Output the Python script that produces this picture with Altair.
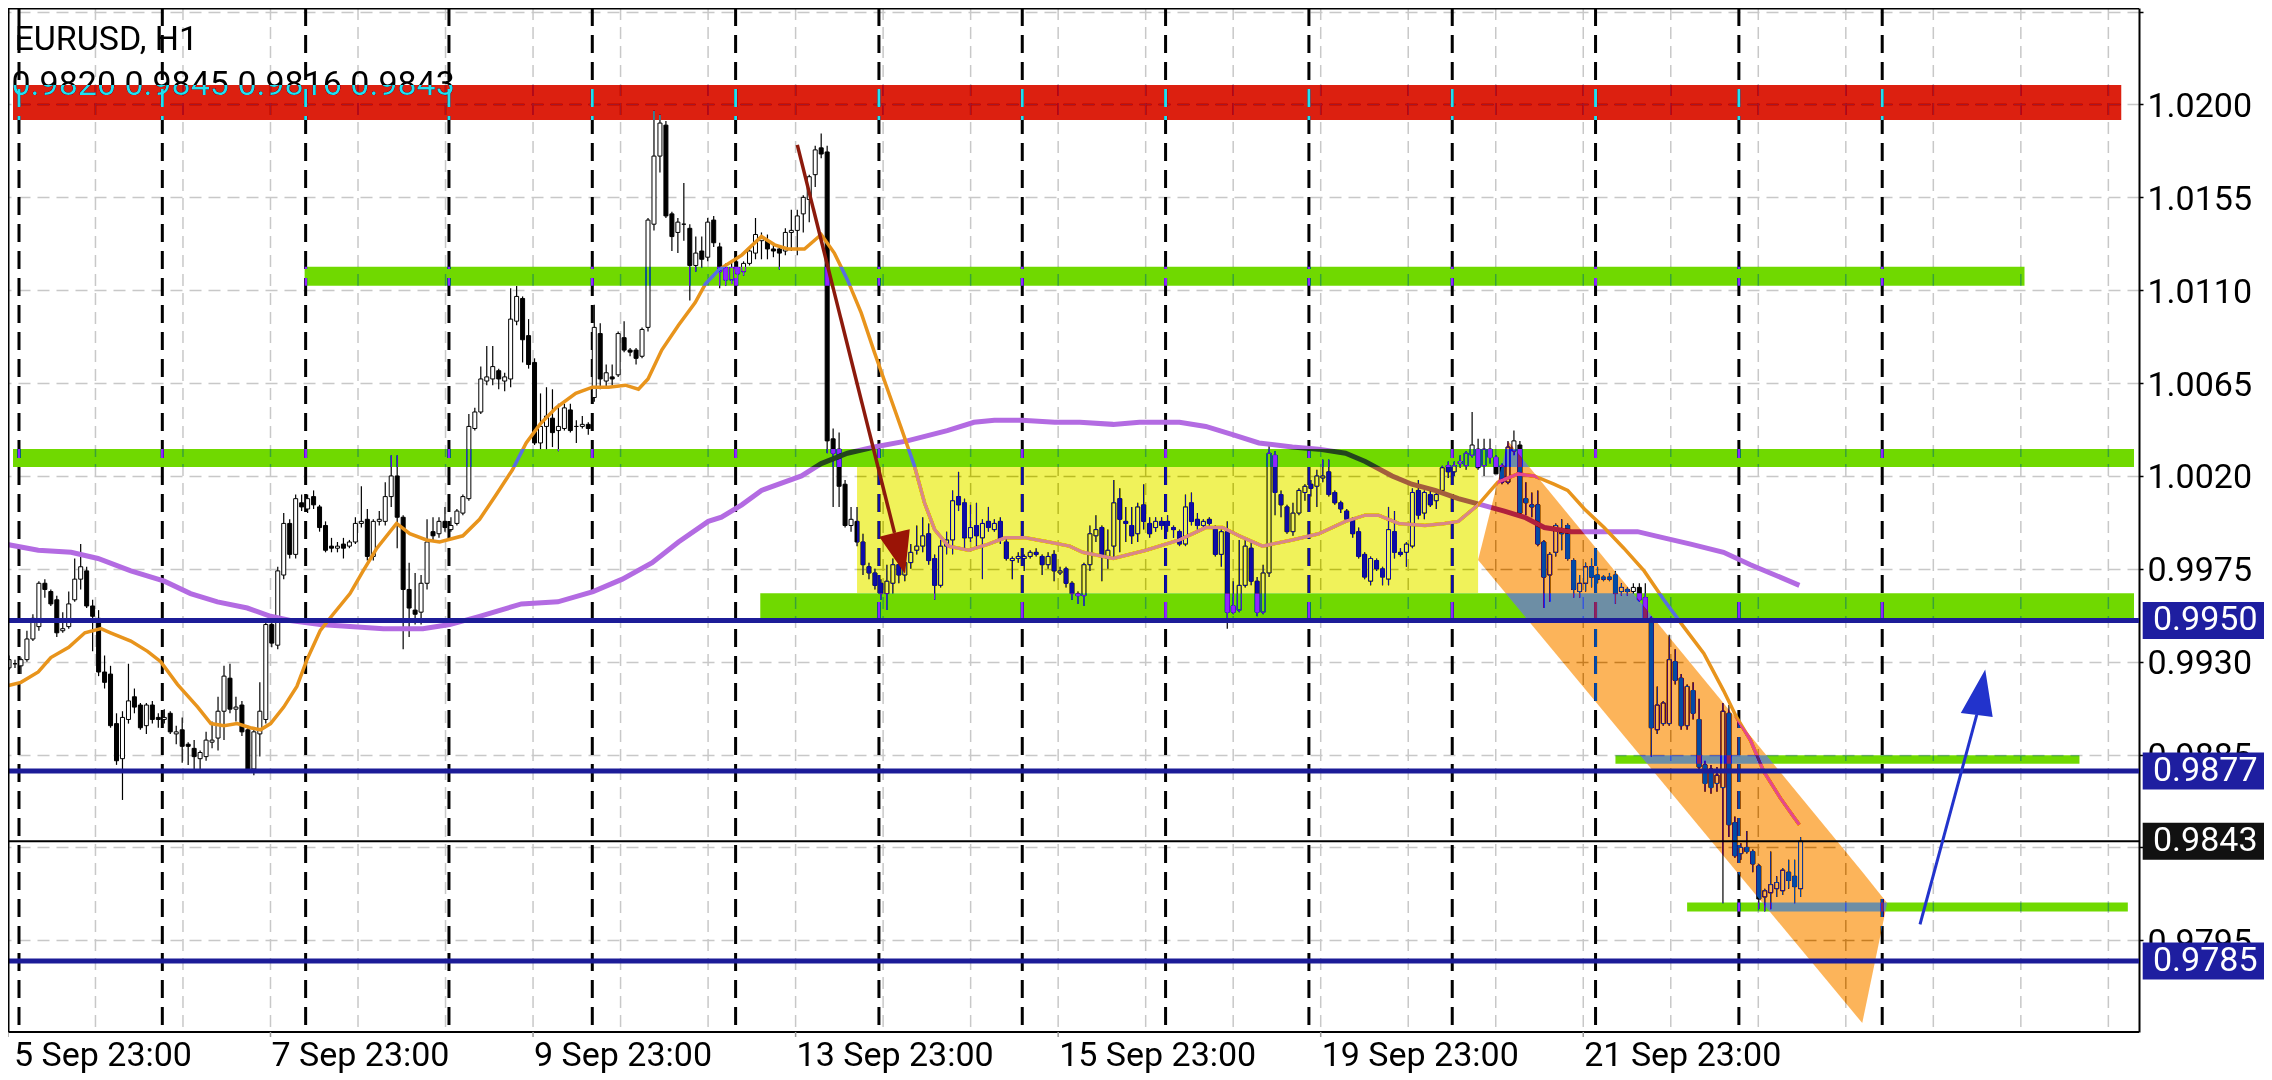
import altair as alt
import pandas as pd

# ---------------- data ----------------
SYMBOL = "EURUSD, H1"
# bar index 0 = 6 Sep 00:00 (server time); one bar per hour; each day row starts at DAY_START
DAY_START = [-2, 0, 24, 48, 72, 96, 120, 144, 168, 192, 216, 240, 264, 288]

OPEN = [
 [0.9927, 0.9929],
 [0.9928, 0.9931, 0.9941, 0.9947, 0.9968, 0.9964, 0.9960, 0.9945, 0.9947, 0.9960, 0.9970, 0.9974, 0.9957, 0.9951, 0.9925, 0.9924, 0.9900, 0.9883, 0.9902, 0.9913, 0.9909, 0.9899, 0.9909, 0.9903],
 [0.9902, 0.9905, 0.9895, 0.9897, 0.9890, 0.9888, 0.9883, 0.9884, 0.9891, 0.9893, 0.9906, 0.9922, 0.9907, 0.9909, 0.9897, 0.9878, 0.9895, 0.9902, 0.9948, 0.9938, 0.9972, 0.9997, 0.9982, 1.0007],
 [1.0004, 1.0010, 1.0005, 0.9996, 0.9986, 0.9985, 0.9987, 0.9986, 0.9988, 0.9997, 0.9999, 0.9981, 0.9998, 0.9998, 1.0010, 1.0020, 1.0000, 0.9965, 0.9955, 0.9954, 0.9968, 0.9993, 0.9992, 0.9998],
 [0.9994, 0.9997, 1.0002, 1.0009, 1.0043, 1.0051, 1.0066, 1.0067, 1.0071, 1.0066, 1.0067, 1.0095, 1.0106, 1.0088, 1.0075, 1.0036, 1.0044, 1.0048, 1.0042, 1.0043, 1.0052, 1.0044, 1.0044, 1.0045],
 [1.0058, 1.0089, 1.0066, 1.0068, 1.0069, 1.0087, 1.0081, 1.0081, 1.0078, 1.0092, 1.0142, 1.0175, 1.0190, 1.0147, 1.0138, 1.0142, 1.0140, 1.0122, 1.0129, 1.0126, 1.0144, 1.0131, 1.0121, 1.0115],
 [1.0121, 1.0119, 1.0123, 1.0128, 1.0134, 1.0134, 1.0130, 1.0130, 1.0129, 1.0138, 1.0139, 1.0147, 1.0154, 1.0166, 1.0179, 1.0177, 1.0038, 1.0033, 1.0016, 0.9996, 0.9998, 0.9988, 0.9976, 0.9973],
 [0.9968, 0.9963, 0.9968, 0.9977, 0.9972, 0.9978, 0.9984, 0.9986, 0.9992, 0.9980, 0.9967, 0.9986, 0.9989, 1.0010, 1.0007, 0.9990, 0.9996, 0.9990, 0.9998, 0.9994, 0.9998, 0.9988, 0.9979, 0.9980],
 [0.9980, 0.9981, 0.9983, 0.9981, 0.9977, 0.9982, 0.9973, 0.9975, 0.9968, 0.9963, 0.9962, 0.9977, 0.9991, 0.9995, 0.9980, 0.9986, 1.0009, 0.9998, 0.9996, 0.9992, 1.0006, 0.9997, 0.9995, 0.9998],
 [0.9998, 0.9995, 0.9993, 0.9987, 1.0007, 0.9999, 0.9996, 0.9999, 0.9995, 0.9982, 0.9993, 0.9957, 0.9955, 0.9967, 0.9985, 0.9969, 0.9954, 0.9973, 1.0030, 1.0011, 1.0005, 0.9993, 1.0002, 1.0012],
 [1.0016, 1.0015, 1.0019, 1.0022, 1.0012, 1.0007, 1.0003, 0.9999, 0.9993, 0.9982, 0.9969, 0.9979, 0.9975, 0.9970, 0.9993, 0.9983, 0.9983, 0.9986, 1.0013, 1.0002, 1.0011, 1.0008, 1.0013, 1.0025],
 [1.0022, 1.0026, 1.0025, 1.0030, 1.0033, 1.0025, 1.0033, 1.0029, 1.0025, 1.0017, 1.0032, 1.0035, 1.0009, 1.0006, 1.0006, 0.9988, 0.9972, 0.9983, 0.9994, 0.9996, 0.9979, 0.9964, 0.9968, 0.9976],
 [0.9972, 0.9971, 0.9971, 0.9972, 0.9964, 0.9965, 0.9964, 0.9966, 0.9961, 0.9951, 0.9897, 0.9900, 0.9900, 0.9930, 0.9922, 0.9899, 0.9916, 0.9902, 0.9880, 0.9878, 0.9871, 0.9869, 0.9905, 0.9852],
 [0.9837, 0.9840, 0.9838, 0.9831, 0.9816, 0.9818, 0.9820, 0.9819, 0.9828, 0.9826, 0.9820],
]
HIGH = [
 [0.9933, 0.9931],
 [0.9932, 0.9945, 0.9953, 0.9969, 0.9970, 0.9965, 0.9962, 0.9954, 0.9964, 0.9980, 0.9987, 0.9976, 0.9960, 0.9955, 0.9933, 0.9928, 0.9905, 0.9906, 0.9929, 0.9917, 0.9910, 0.9910, 0.9911, 0.9905],
 [0.9907, 0.9906, 0.9899, 0.9903, 0.9891, 0.9892, 0.9887, 0.9896, 0.9901, 0.9913, 0.9928, 0.9929, 0.9913, 0.9911, 0.9899, 0.9897, 0.9920, 0.9951, 0.9951, 0.9976, 1.0002, 0.9999, 1.0011, 1.0011],
 [1.0011, 1.0013, 1.0006, 0.9998, 0.9990, 0.9988, 0.9990, 0.9989, 1.0000, 1.0015, 1.0004, 0.9999, 1.0003, 1.0017, 1.0030, 1.0030, 1.0001, 0.9978, 0.9973, 0.9972, 0.9999, 1.0000, 1.0000, 1.0005],
 [1.0000, 1.0004, 1.0011, 1.0050, 1.0053, 1.0073, 1.0083, 1.0083, 1.0072, 1.0070, 1.0111, 1.0112, 1.0107, 1.0096, 1.0077, 1.0060, 1.0063, 1.0062, 1.0055, 1.0055, 1.0055, 1.0047, 1.0049, 1.0046],
 [1.0103, 1.0094, 1.0074, 1.0074, 1.0090, 1.0095, 1.0082, 1.0082, 1.0092, 1.0145, 1.0197, 1.0195, 1.0192, 1.0148, 1.0145, 1.0162, 1.0142, 1.0136, 1.0136, 1.0145, 1.0146, 1.0133, 1.0123, 1.0124],
 [1.0124, 1.0124, 1.0130, 1.0145, 1.0138, 1.0137, 1.0132, 1.0131, 1.0140, 1.0149, 1.0149, 1.0156, 1.0166, 1.0180, 1.0186, 1.0180, 1.0043, 1.0041, 1.0018, 1.0005, 1.0005, 0.9992, 0.9978, 0.9975],
 [0.9970, 0.9977, 0.9980, 0.9979, 0.9980, 0.9987, 0.9996, 1.0000, 0.9997, 0.9982, 0.9989, 0.9993, 1.0013, 1.0022, 1.0009, 1.0006, 1.0007, 0.9999, 1.0005, 0.9999, 1.0000, 0.9990, 0.9981, 0.9983],
 [0.9982, 0.9984, 0.9985, 0.9982, 0.9983, 0.9984, 0.9976, 0.9976, 0.9969, 0.9964, 0.9978, 0.9996, 1.0001, 0.9996, 0.9994, 1.0018, 1.0014, 1.0005, 1.0005, 1.0007, 1.0016, 1.0000, 1.0000, 1.0000],
 [1.0001, 0.9996, 0.9994, 1.0011, 1.0012, 1.0002, 0.9999, 1.0000, 0.9996, 0.9994, 0.9998, 0.9969, 0.9989, 0.9989, 0.9988, 0.9971, 0.9977, 1.0035, 1.0032, 1.0013, 1.0006, 1.0007, 1.0014, 1.0016],
 [1.0018, 1.0023, 1.0028, 1.0028, 1.0013, 1.0008, 1.0004, 1.0000, 0.9995, 0.9983, 0.9981, 0.9980, 0.9976, 1.0005, 1.0003, 0.9985, 0.9988, 1.0014, 1.0018, 1.0013, 1.0013, 1.0012, 1.0025, 1.0027],
 [1.0027, 1.0030, 1.0032, 1.0051, 1.0038, 1.0038, 1.0038, 1.0030, 1.0026, 1.0037, 1.0042, 1.0037, 1.0017, 1.0012, 1.0013, 0.9989, 0.9983, 0.9997, 0.9999, 0.9997, 0.9980, 0.9972, 0.9978, 0.9980],
 [0.9976, 0.9972, 0.9973, 0.9974, 0.9968, 0.9966, 0.9968, 0.9968, 0.9968, 0.9952, 0.9918, 0.9911, 0.9943, 0.9936, 0.9924, 0.9919, 0.9920, 0.9912, 0.9882, 0.9880, 0.9879, 0.9910, 0.9909, 0.9855],
 [0.9842, 0.9848, 0.9839, 0.9832, 0.9820, 0.9838, 0.9826, 0.9830, 0.9834, 0.9834, 0.9845],
]
LOW = [
 [0.9926, 0.9927],
 [0.9924, 0.9930, 0.9940, 0.9945, 0.9961, 0.9957, 0.9942, 0.9944, 0.9946, 0.9959, 0.9965, 0.9956, 0.9935, 0.9923, 0.9917, 0.9898, 0.9880, 0.9863, 0.9900, 0.9905, 0.9897, 0.9895, 0.9900, 0.9898],
 [0.9900, 0.9895, 0.9890, 0.9881, 0.9880, 0.9878, 0.9878, 0.9882, 0.9888, 0.9887, 0.9892, 0.9905, 0.9901, 0.9894, 0.9877, 0.9875, 0.9884, 0.9900, 0.9937, 0.9936, 0.9970, 0.9980, 0.9980, 1.0003],
 [1.0002, 1.0004, 0.9993, 0.9983, 0.9983, 0.9983, 0.9980, 0.9985, 0.9987, 0.9995, 0.9979, 0.9979, 0.9996, 0.9996, 1.0005, 0.9985, 0.9936, 0.9942, 0.9948, 0.9948, 0.9965, 0.9988, 0.9990, 0.9993],
 [0.9993, 0.9996, 1.0001, 1.0008, 1.0042, 1.0050, 1.0064, 1.0064, 1.0062, 1.0061, 1.0063, 1.0093, 1.0075, 1.0072, 1.0035, 1.0033, 1.0033, 1.0034, 1.0032, 1.0042, 1.0041, 1.0036, 1.0043, 1.0040],
 [1.0056, 1.0062, 1.0063, 1.0064, 1.0068, 1.0080, 1.0078, 1.0074, 1.0077, 1.0090, 1.0139, 1.0167, 1.0145, 1.0129, 1.0128, 1.0134, 1.0105, 1.0119, 1.0121, 1.0124, 1.0131, 1.0111, 1.0112, 1.0113],
 [1.0112, 1.0117, 1.0122, 1.0125, 1.0125, 1.0125, 1.0126, 1.0120, 1.0127, 1.0129, 1.0127, 1.0138, 1.0143, 1.0160, 1.0174, 1.0031, 1.0005, 1.0005, 0.9995, 0.9993, 0.9986, 0.9972, 0.9970, 0.9965],
 [0.9960, 0.9955, 0.9963, 0.9968, 0.9969, 0.9975, 0.9982, 0.9983, 0.9977, 0.9960, 0.9966, 0.9982, 0.9982, 1.0003, 0.9984, 0.9988, 0.9986, 0.9970, 0.9993, 0.9993, 0.9987, 0.9979, 0.9970, 0.9978],
 [0.9974, 0.9980, 0.9981, 0.9972, 0.9975, 0.9969, 0.9972, 0.9966, 0.9960, 0.9958, 0.9957, 0.9974, 0.9988, 0.9969, 0.9975, 0.9980, 0.9983, 0.9988, 0.9987, 0.9988, 0.9994, 0.9990, 0.9993, 0.9994],
 [0.9993, 0.9990, 0.9986, 0.9986, 0.9996, 0.9994, 0.9994, 0.9996, 0.9981, 0.9976, 0.9946, 0.9953, 0.9954, 0.9966, 0.9967, 0.9952, 0.9953, 0.9971, 1.0001, 1.0000, 0.9992, 0.9991, 1.0001, 1.0008],
 [1.0010, 1.0005, 1.0017, 1.0010, 1.0006, 1.0002, 0.9998, 0.9990, 0.9980, 0.9970, 0.9967, 0.9974, 0.9967, 0.9967, 0.9980, 0.9981, 0.9976, 0.9985, 0.9999, 0.9999, 1.0005, 1.0004, 1.0012, 1.0019],
 [1.0020, 1.0024, 1.0023, 1.0029, 1.0023, 1.0020, 1.0026, 1.0021, 1.0016, 1.0016, 1.0030, 1.0001, 1.0001, 1.0000, 0.9986, 0.9956, 0.9959, 0.9981, 0.9984, 0.9979, 0.9961, 0.9961, 0.9964, 0.9966],
 [0.9968, 0.9969, 0.9969, 0.9958, 0.9962, 0.9962, 0.9963, 0.9959, 0.9950, 0.9884, 0.9895, 0.9899, 0.9899, 0.9919, 0.9897, 0.9897, 0.9902, 0.9877, 0.9867, 0.9866, 0.9867, 0.9813, 0.9845, 0.9835],
 [0.9834, 0.9837, 0.9828, 0.9810, 0.9809, 0.9810, 0.9816, 0.9817, 0.9820, 0.9813, 0.9816],
]
CLOSE = [
 [0.9931, 0.9929],
 [0.9931, 0.9941, 0.9951, 0.9968, 0.9965, 0.9958, 0.9944, 0.9946, 0.9958, 0.9970, 0.9976, 0.9957, 0.9952, 0.9925, 0.9920, 0.9899, 0.9882, 0.9903, 0.9911, 0.9908, 0.9898, 0.9909, 0.9902, 0.9902],
 [0.9903, 0.9896, 0.9896, 0.9889, 0.9889, 0.9884, 0.9886, 0.9892, 0.9892, 0.9906, 0.9923, 0.9907, 0.9908, 0.9896, 0.9878, 0.9896, 0.9906, 0.9948, 0.9939, 0.9974, 0.9997, 0.9982, 1.0009, 1.0005],
 [1.0009, 1.0006, 0.9995, 0.9984, 0.9985, 0.9986, 0.9985, 0.9988, 0.9997, 0.9998, 0.9981, 0.9998, 0.9999, 1.0010, 1.0020, 1.0000, 0.9965, 0.9956, 0.9953, 0.9968, 0.9988, 0.9991, 0.9998, 0.9995],
 [0.9996, 1.0003, 1.0010, 1.0044, 1.0051, 1.0067, 1.0068, 1.0073, 1.0067, 1.0068, 1.0096, 1.0107, 1.0086, 1.0074, 1.0036, 1.0044, 1.0049, 1.0041, 1.0044, 1.0053, 1.0042, 1.0044, 1.0045, 1.0043],
 [1.0092, 1.0067, 1.0070, 1.0067, 1.0089, 1.0081, 1.0080, 1.0077, 1.0091, 1.0144, 1.0175, 1.0191, 1.0146, 1.0136, 1.0143, 1.0142, 1.0122, 1.0128, 1.0125, 1.0143, 1.0133, 1.0119, 1.0115, 1.0121],
 [1.0118, 1.0123, 1.0129, 1.0137, 1.0135, 1.0130, 1.0129, 1.0128, 1.0138, 1.0139, 1.0146, 1.0155, 1.0165, 1.0178, 1.0176, 1.0037, 1.0031, 1.0015, 0.9996, 0.9999, 0.9988, 0.9977, 0.9973, 0.9967],
 [0.9963, 0.9969, 0.9977, 0.9972, 0.9978, 0.9983, 0.9986, 0.9991, 0.9979, 0.9967, 0.9986, 0.9989, 1.0008, 1.0006, 0.9990, 0.9995, 0.9991, 0.9997, 0.9995, 0.9997, 0.9989, 0.9980, 0.9980, 0.9981],
 [0.9981, 0.9983, 0.9982, 0.9977, 0.9981, 0.9974, 0.9974, 0.9968, 0.9963, 0.9962, 0.9977, 0.9992, 0.9994, 0.9981, 0.9984, 1.0007, 0.9999, 0.9997, 0.9991, 1.0005, 0.9998, 0.9992, 0.9998, 0.9996],
 [0.9996, 0.9994, 0.9987, 1.0005, 0.9998, 0.9996, 0.9998, 0.9997, 0.9982, 0.9993, 0.9954, 0.9954, 0.9967, 0.9986, 0.9969, 0.9954, 0.9973, 1.0031, 1.0012, 1.0006, 0.9993, 1.0002, 1.0013, 1.0015],
 [1.0014, 1.0020, 1.0020, 1.0011, 1.0007, 1.0004, 0.9999, 0.9992, 0.9981, 0.9971, 0.9980, 0.9975, 0.9971, 0.9994, 0.9983, 0.9982, 0.9987, 1.0012, 1.0001, 1.0012, 1.0006, 1.0011, 1.0024, 1.0022],
 [1.0025, 1.0027, 1.0031, 1.0035, 1.0024, 1.0033, 1.0029, 1.0021, 1.0017, 1.0034, 1.0037, 1.0002, 1.0007, 1.0005, 0.9987, 0.9971, 0.9982, 0.9996, 0.9992, 0.9980, 0.9965, 0.9968, 0.9976, 0.9971],
 [0.9970, 0.9970, 0.9970, 0.9963, 0.9966, 0.9964, 0.9966, 0.9960, 0.9951, 0.9898, 0.9909, 0.9910, 0.9931, 0.9921, 0.9899, 0.9918, 0.9905, 0.9879, 0.9871, 0.9869, 0.9875, 0.9906, 0.9851, 0.9836],
 [0.9840, 0.9838, 0.9832, 0.9815, 0.9819, 0.9822, 0.9823, 0.9829, 0.9824, 0.9821, 0.9843],
]

# moving averages (bar position, value)
ORANGE_I = [-2.7, 0, 2.9, 5, 8, 10.7, 13.4, 15, 18.4, 21.2, 23.4, 26.2, 29.6, 31.8, 34, 36.2, 38.4, 40.1, 41.8, 44, 46.2, 47.9, 50.1, 52, 55.1, 57.3, 59.6, 62.9, 65.1, 67.9, 70.1, 74, 76.8, 79.6, 82.3, 84.6, 86.9, 89.6, 92.9, 95.7, 98.4, 101.2, 103.4, 105, 107.3, 110.1, 112.9, 114.6, 116.9, 120.7, 124, 126.2, 128.4, 131.2, 134, 136.2, 138.4, 140.7, 142.9, 145.1, 147.3, 149.6, 151.3, 153, 155.3, 158.7, 162, 164.8, 168.2, 172.1, 175.6, 177.8, 182.9, 188.4, 194, 198.4, 201.2, 204, 207.9, 212.9, 217.3, 221.8, 225.1, 227.3, 230.7, 235.1, 238.4, 240.7, 244, 247.3, 250.7, 253.4, 256.7, 259, 261.8, 265.1, 268.4, 271.8, 275.1, 278.4, 281.8, 285.1, 287.3, 289.6, 291.8, 294.6, 296.8, 297.8]
ORANGE_V = [0.9918, 0.9920, 0.9925, 0.9932, 0.9937, 0.9944, 0.9946, 0.9944, 0.9940, 0.9935, 0.9930, 0.9919, 0.9908, 0.9900, 0.9899, 0.9900, 0.9898, 0.9897, 0.9900, 0.9908, 0.9918, 0.9931, 0.9945, 0.9952, 0.9963, 0.9974, 0.9985, 0.9997, 0.9992, 0.9989, 0.9988, 0.9991, 0.9999, 1.0011, 1.0023, 1.0036, 1.0045, 1.0053, 1.0060, 1.0063, 1.0063, 1.0064, 1.0062, 1.0067, 1.0081, 1.0093, 1.0104, 1.0113, 1.0120, 1.0127, 1.0136, 1.0132, 1.0130, 1.0130, 1.0137, 1.0128, 1.0115, 1.0099, 1.0080, 1.0062, 1.0044, 1.0025, 1.0007, 0.9994, 0.9986, 0.9984, 0.9987, 0.9990, 0.9990, 0.9988, 0.9986, 0.9983, 0.9980, 0.9984, 0.9989, 0.9995, 0.9995, 0.9991, 0.9986, 0.9989, 0.9992, 0.9998, 1.0001, 1.0001, 0.9997, 0.9996, 0.9997, 0.9998, 1.0006, 1.0017, 1.0021, 1.0020, 1.0016, 1.0013, 1.0004, 0.9995, 0.9985, 0.9974, 0.9960, 0.9947, 0.9934, 0.9916, 0.9903, 0.9892, 0.9877, 0.9864, 0.9855, 0.9851]
PURPLE_I = [-2.7, 2.9, 8.4, 12.9, 18.4, 24, 28.4, 32.9, 37.9, 41.8, 45.1, 50.1, 55.1, 60.7, 67.3, 71.8, 76.8, 83.8, 89.9, 95.8, 100.7, 105.7, 110.1, 115.1, 117.3, 120.7, 124, 130.7, 134, 138.4, 142.9, 148.4, 155.1, 159.6, 163, 167.6, 173.1, 177.3, 182.9, 187.3, 194, 198.4, 202.9, 207.3, 212.9, 217.3, 221.8, 225.1, 229.6, 232.9, 236.8, 240.7, 244.6, 248.4, 251.8, 255.1, 259.6, 265.1, 270.7, 275.1, 279.6, 285.1, 289.6, 292.9, 297.8]
PURPLE_V = [0.9987, 0.9984, 0.9983, 0.9980, 0.9974, 0.9969, 0.9963, 0.9959, 0.9956, 0.9952, 0.9950, 0.9948, 0.9947, 0.9946, 0.9946, 0.9948, 0.9952, 0.9958, 0.9959, 0.9964, 0.9970, 0.9978, 0.9988, 0.9998, 1.0000, 1.0006, 1.0013, 1.0020, 1.0026, 1.0031, 1.0034, 1.0037, 1.0042, 1.0046, 1.0047, 1.0047, 1.0046, 1.0046, 1.0045, 1.0046, 1.0046, 1.0044, 1.0040, 1.0036, 1.0034, 1.0033, 1.0031, 1.0027, 1.0020, 1.0016, 1.0013, 1.0009, 1.0006, 1.0003, 1.0000, 0.9995, 0.9993, 0.9993, 0.9993, 0.9990, 0.9987, 0.9983, 0.9977, 0.9973, 0.9967]

# time-axis labels and price-axis ticks
X_LABELS = ["5 Sep 23:00", "7 Sep 23:00", "9 Sep 23:00", "13 Sep 23:00", "15 Sep 23:00", "19 Sep 23:00", "21 Sep 23:00"]
Y_TICKS = [1.0245, 1.0200, 1.0155, 1.0110, 1.0065, 1.0020, 0.9975, 0.9930, 0.9885, 0.9840, 0.9795]
Y_HIDDEN = [1.0245, 0.9840]   # tick positions whose label is not shown (cut off / under the price tag)

# horizontal levels with price tags
LEVELS = [0.9950, 0.9877, 0.9785]
CURRENT_PRICE = 0.9843

# drawn zones: bar from / to, price top / bottom, kind
ZONE_FROM = [-1.3333, 47.5, -1.3333, 123.8, 140.0, 267.0, 279.0]
ZONE_TO = [351.7, 335.5, 353.8333, 353.8333, 244.0, 344.7, 352.8]
ZONE_TOP = [1.02095, 1.01214, 1.00331, 0.99632, 1.00244, 0.98847, 0.98133]
ZONE_BOTTOM = [1.01925, 1.01122, 1.00244, 0.99512, 0.99632, 0.98806, 0.98089]
ZONE_KIND = ["red", "green", "green", "green", "yellow", "green", "green"]

# descending channel (parallelogram): bar, upper edge, lower edge
CHANNEL_I = [244.0, 249.0, 308.33, 312.5]
CHANNEL_TOP = [0.99793, 1.00369, 0.98282, 0.98131]
CHANNEL_BOTTOM = [0.99793, 0.99618, 0.97549, 0.98131]

# arrows: shaft (bar, price) and head triangle vertices
RED_SHAFT_I = [130.0, 146.28]
RED_SHAFT_V = [1.01804, 0.99924]
RED_HEAD = [(143.72, 0.99906), (148.05, 0.99725), (148.83, 0.99942)]
BLUE_SHAFT_I = [318.0, 327.5]
BLUE_SHAFT_V = [0.98027, 0.99042]
BLUE_HEAD = [(324.83, 0.99051), (328.92, 0.99262), (330.17, 0.99032)]

# ---------------- layout ----------------
W, H = 2131, 1024
X_DOM = [-1.3333, 353.8333]
Y_DOM = [0.975056, 1.024676]
GRID_STEP = 14.655     # bars between vertical grid lines
GRID_FIRST = -2.18
FONT = "Roboto"

# appearance colours; zones are drawn with 'difference' blending, so use inverses
def inverse(hexcol):
    h = hexcol.lstrip("#")
    return "#" + "".join("%02x" % (255 - int(h[k:k + 2], 16)) for k in (0, 2, 4))

LOOK = {"red": "#dc2010", "green": "#70d900", "yellow": "#f0f25a", "orange": "#fcb45a"}

xs = alt.Scale(domain=X_DOM, nice=False, zero=False)
ys = alt.Scale(domain=Y_DOM, nice=False, zero=False)

# ---------------- tables ----------------
rows = []
for d, start in enumerate(DAY_START):
    for j in range(len(CLOSE[d])):
        o, h, l, c = OPEN[d][j], HIGH[d][j], LOW[d][j], CLOSE[d][j]
        rows.append({"i": start + j, "o": o, "c": c,
                     "hi": max(h, o, c), "lo": min(l, o, c)})
candles = pd.DataFrame(rows)
last = (OPEN[-1][-1], HIGH[-1][-1], LOW[-1][-1], CLOSE[-1][-1])

orange = pd.DataFrame({"i": ORANGE_I, "v": ORANGE_V})
purple = pd.DataFrame({"i": PURPLE_I, "v": PURPLE_V})

zones = pd.DataFrame({"a": ZONE_FROM, "b": ZONE_TO, "t": ZONE_TOP, "u": ZONE_BOTTOM,
                      "col": [inverse(LOOK[k]) for k in ZONE_KIND]})
channel = pd.DataFrame({"i": CHANNEL_I, "t": CHANNEL_TOP, "u": CHANNEL_BOTTOM})

def tri_area(verts):
    v = sorted(verts)
    (x0, y0), (x1, y1), (x2, y2) = v
    ym = y0 + (y2 - y0) * (x1 - x0) / (x2 - x0)
    return pd.DataFrame({"i": [x0, x1, x2], "t": [y0, max(y1, ym), y2], "u": [y0, min(y1, ym), y2]})

grid_x = pd.DataFrame({"x": [GRID_FIRST + GRID_STEP * k for k in range(1, 25)]})
seps = pd.DataFrame({"x": [24 * k - 0.33 for k in range(0, 14)]})
lab_pos = [GRID_FIRST + GRID_STEP * 3 * k for k in range(len(X_LABELS))]
xlabels = pd.DataFrame({"x": [max(p, X_DOM[0]) for p in lab_pos], "tick": lab_pos, "t": X_LABELS})

tags = pd.DataFrame({"p": LEVELS + [CURRENT_PRICE],
                     "col": ["#1e1ea0"] * len(LEVELS) + ["#111111"],
                     "t": ["%.4f" % p for p in LEVELS + [CURRENT_PRICE]]})
levels = pd.DataFrame({"p": LEVELS})
cur = pd.DataFrame({"p": [CURRENT_PRICE]})
header = pd.DataFrame({"a": [SYMBOL], "b": [" ".join("%.4f" % v for v in last)]})

hidden_expr = " || ".join("abs(datum.value - %s) < 0.00001" % v for v in Y_HIDDEN)
yaxis = alt.Axis(orient="right", values=Y_TICKS,
                 labelExpr="(" + hidden_expr + ") ? '' : format(datum.value, '.4f')",
                 labelFont=FONT, labelFontSize=34, labelColor="black", labelPadding=4,
                 labelOffset=2, labelOverlap=False, labelBound=False, labelFlush=False,
                 tickSize=4, tickColor="black", tickWidth=1.5,
                 domainColor="black", domainWidth=2,
                 grid=True, gridColor="#c8c8c8", gridDash=[12, 7], gridWidth=1.5, title=None)

X = lambda f: alt.X(f, type="quantitative", scale=xs, axis=None)
Y = lambda f: alt.Y(f, type="quantitative", scale=ys, axis=yaxis)

# ---------------- layers ----------------
vgrid = alt.Chart(grid_x).mark_rule(color="#c8c8c8", strokeDash=[12, 7], strokeWidth=1.5).encode(
    x=X("x"), y=alt.value(0), y2=alt.value(H))
sep = alt.Chart(seps).mark_rule(color="black", strokeDash=[18, 9], strokeWidth=3).encode(
    x=X("x"), y=alt.value(0), y2=alt.value(H))

head_a = alt.Chart(header).mark_text(align="left", baseline="alphabetic", font=FONT,
                                     fontSize=34, color="black").encode(
    x=alt.value(6.5), y=alt.value(42), text="a:N")
head_b = alt.Chart(header).mark_text(align="left", baseline="alphabetic", font=FONT,
                                     fontSize=34, color="black").encode(
    x=alt.value(3.5), y=alt.value(87), text="b:N")

wicks = alt.Chart(candles).mark_rule(color="black", strokeWidth=1.2).encode(
    x=X("i"), y=Y("lo"), y2="hi:Q")
bodies = alt.Chart(candles).mark_bar(size=4, stroke="black", strokeWidth=1).encode(
    x=X("i"), y=Y("o"), y2="c:Q",
    fill=alt.condition("datum.c >= datum.o", alt.value("white"), alt.value("black")))

ma_p = alt.Chart(purple).mark_line(color="#b36be2", strokeWidth=5).encode(x=X("i"), y=Y("v"))
ma_o = alt.Chart(orange).mark_line(color="#e8941c", strokeWidth=3.5).encode(x=X("i"), y=Y("v"))

zone_l = alt.Chart(zones).mark_rect(blend="difference").encode(
    x=X("a"), x2="b:Q", y=Y("t"), y2="u:Q", color=alt.Color("col:N", scale=None))
chan_l = alt.Chart(channel).mark_area(blend="difference", color=inverse(LOOK["orange"])).encode(
    x=X("i"), y=Y("t"), y2="u:Q")

level_l = alt.Chart(levels).mark_rule(color="#1c1c98", strokeWidth=5).encode(
    y=Y("p"), x=alt.value(0), x2=alt.value(W))
cur_l = alt.Chart(cur).mark_rule(color="black", strokeWidth=2).encode(
    y=Y("p"), x=alt.value(0), x2=alt.value(W))

red_shaft = alt.Chart(pd.DataFrame({"i": RED_SHAFT_I, "v": RED_SHAFT_V})).mark_line(
    color="#8c1a0c", strokeWidth=3.5).encode(x=X("i"), y=Y("v"))
red_head = alt.Chart(tri_area(RED_HEAD)).mark_area(color="#9a1406").encode(
    x=X("i"), y=Y("t"), y2="u:Q")
blue_shaft = alt.Chart(pd.DataFrame({"i": BLUE_SHAFT_I, "v": BLUE_SHAFT_V})).mark_line(
    color="#2233cc", strokeWidth=3).encode(x=X("i"), y=Y("v"))
blue_head = alt.Chart(tri_area(BLUE_HEAD)).mark_area(color="#2233cc").encode(
    x=X("i"), y=Y("t"), y2="u:Q")

tag_box = alt.Chart(tags).mark_rule(strokeWidth=37, strokeCap="butt").encode(
    y=Y("p"), x=alt.value(W + 3.7), x2=alt.value(2256), color=alt.Color("col:N", scale=None))
tag_txt = alt.Chart(tags).mark_text(align="left", baseline="middle", font=FONT, fontSize=34,
                                    color="white").encode(
    y=Y("p"), x=alt.value(W + 14), text="t:N")

frame_b = alt.Chart(header).mark_rule(color="black", strokeWidth=2).encode(
    x=alt.value(0), x2=alt.value(W), y=alt.value(H))
frame_t = alt.Chart(header).mark_rule(color="black", strokeWidth=1.5).encode(
    x=alt.value(0), x2=alt.value(W), y=alt.value(0.75))
frame_l = alt.Chart(header).mark_rule(color="black", strokeWidth=1.5).encode(
    x=alt.value(0.75), y=alt.value(0), y2=alt.value(H))
xticks = alt.Chart(xlabels).mark_rule(color="#999999", strokeWidth=1.5).encode(
    x=X("tick"), y=alt.value(H), y2=alt.value(H + 5))
xlab = alt.Chart(xlabels).mark_text(align="left", baseline="alphabetic", font=FONT,
                                    fontSize=34, color="black", dx=1).encode(
    x=X("x"), y=alt.value(H + 34), text="t:N")

chart = alt.layer(
    vgrid, sep, head_a, head_b, wicks, bodies, ma_p, ma_o,
    chan_l, zone_l, level_l, cur_l,
    red_shaft, red_head, blue_shaft, blue_head,
    tag_box, tag_txt, frame_b, frame_t, frame_l, xticks, xlab,
).properties(
    width=W, height=H,
    autosize=alt.AutoSizeParams(type="none"),
    padding={"left": 0, "top": 0, "right": 125, "bottom": 48},
    background="white",
).configure_view(stroke="transparent")

chart.save("out.html", embed_options={"renderer": "svg", "actions": False})
